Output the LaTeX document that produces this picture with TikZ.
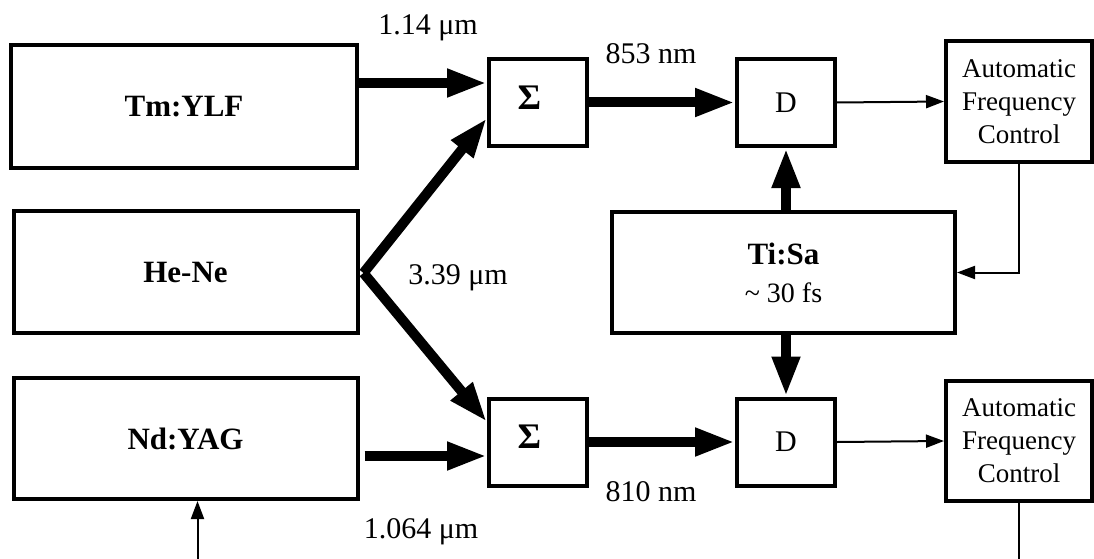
\documentclass[tikz,border=0pt]{standalone}
\usepackage{fontspec}
\setmainfont{Liberation Serif}
\usetikzlibrary{arrows.meta,positioning,calc}

\begin{document}
\begin{tikzpicture}[x=1pt,y=-1pt,
  box/.style={draw, line width=4pt, inner sep=0pt, align=center},
  big/.style={font=\fontsize{31}{37}\selectfont\bfseries},
  beam/.style={line width=10pt, -{Triangle[length=40pt,width=26pt]}},
  sig/.style={line width=2pt, -{Triangle[length=18pt,width=13pt]}},
  lbl/.style={font=\fontsize{30}{36}\selectfont}]
\useasboundingbox (0,0) rectangle (1094,559);
\node[box,big,minimum width=346pt,minimum height=123pt] (tm) at (184,106.5) {Tm:YLF};
\node[box,big,minimum width=344pt,minimum height=122pt] (hene) at (185.5,272) {He-Ne};
\node[box,big,minimum width=344pt,minimum height=121pt] (nd) at (185.5,438.5) {Nd:YAG};
\node[box,minimum width=343pt,minimum height=121pt,font=\fontsize{31}{38}\selectfont] (tisa) at (783.5,272.5)
  {\textbf{Ti:Sa}\\{\fontsize{28}{38}\selectfont\textasciitilde{} 30 fs}};
\foreach \k/\yy in {1/102.5,2/442}{
  \node[box,minimum width=98pt,minimum height=87pt,font=\fontsize{36}{40}\selectfont\bfseries] (sum\k) at (538,\yy) {\raisebox{10pt}{Σ}\hspace*{17pt}};
  \node[box,minimum width=98pt,minimum height=87pt,font=\fontsize{30}{36}\selectfont] (det\k) at (786,\yy) {\raisebox{-10pt}{D}};
  \node[box,minimum width=146pt,minimum height=120pt,font=\fontsize{27}{33}\selectfont] (afc\k) at (1019,\yy-1) {Automatic\\Frequency\\Control};
  \draw[beam] (sum\k.east) -- (det\k.west);
  \draw[sig] (det\k.east) -- (afc\k.west);
}
\coordinate (split) at ($(hene.east)+(4,1)$);
\coordinate (ndin) at (197.5,565);
\draw[beam] (tm.east |- 0,83) -- (sum1.west |- 0,83);
\draw[beam,shorten <=5pt] (nd.east |- 0,456) -- (sum2.west |- 0,456);
\draw[beam] (split) -- ($(sum1.west)+(0,15.5)$);
\draw[beam] (split) -- ($(sum2.west)+(0,-20)$);
\draw[beam] (det1.south |- tisa.north) -- (det1.south);
\draw[beam] (det2.north |- tisa.south) -- (det2.north);
\draw[sig] (afc1.south) |- (tisa.east);
\draw[line width=2pt] (afc2.south) -- (afc2.south |- 0,565);
\draw[sig] (ndin) -- (ndin |- nd.south);
\node[lbl] (l114) at (428,28) {1.14 μm};
\node[lbl] (l853) at (651,54) {853 nm};
\node[lbl] (l339) at (458,278) {3.39 μm};
\node[lbl] (l810) at (651,492) {810 nm};
\node[lbl] (l1064) at (421,532) {1.064 μm};
\end{tikzpicture}
\end{document}
